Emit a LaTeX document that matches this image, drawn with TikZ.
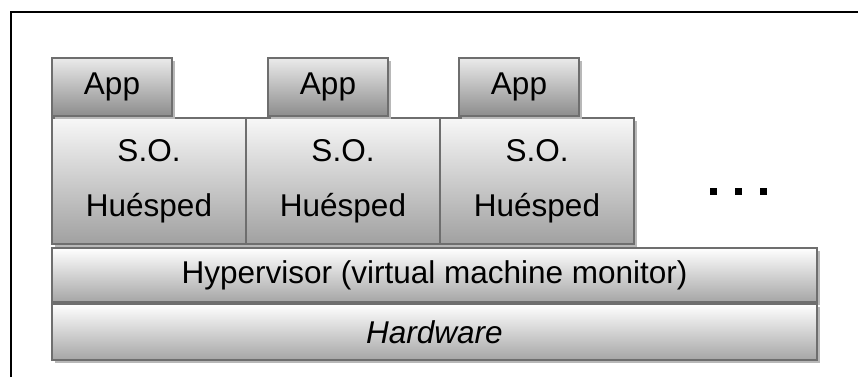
\documentclass[tikz,border=0pt]{standalone}
\usepackage{fontspec}
\setmainfont{Liberation Sans}
\usetikzlibrary{positioning,shadows}

\begin{document}
\begin{tikzpicture}[x=1pt, y=-1pt,
    every node/.style={font=\fontsize{31.5}{55}\selectfont, inner sep=0pt, outer sep=0pt},
    layer/.style={draw=black!57, line width=1.6pt, top color=white, bottom color=black!35,
      drop shadow={shadow xshift=3pt, shadow yshift=-3pt, fill=black!28, opacity=1}},
    appbox/.style={layer, top color=black!8, bottom color=black!45, minimum width=120pt, minimum height=58pt},
    osbox/.style={layer, top color=black!3, bottom color=black!37, minimum width=194pt, minimum height=126pt, align=center},
    basebox/.style={layer, minimum width=765pt},
    dot/.style={fill=black, minimum size=7pt}]
    \useasboundingbox (0,0) rectangle (858,377);
    % Frame
    \draw[line width=1.8pt] (11,377) -- (11,12) -- (858,12);

    % Guest systems
    \node[osbox, anchor=north west] (os1) at (52,118) {S.O.\\Huésped};
    \node[osbox, right=0pt of os1] (os2) {S.O.\\Huésped};
    \node[osbox, right=0pt of os2] (os3) {S.O.\\Huésped};

    % Applications
    \node[appbox, anchor=north west] (app1) at (52,58) {App};
    \node[appbox, anchor=north west] (app2) at (268,58) {App};
    \node[appbox, anchor=north west] (app3) at (459,58) {App};

    % Lower layers
    \node[basebox, minimum height=54pt, anchor=north west] (hyper) at (52,248) {Hypervisor (virtual machine monitor)};
    \node[basebox, minimum height=56pt, anchor=north west] (hw) at (52,304) {\itshape Hardware};

    % More guests
    \node[dot] (d1) at (713,191) {};
    \node[dot] (d2) at (738,191) {};
    \node[dot] (d3) at (763,191) {};
\end{tikzpicture}
\end{document}
